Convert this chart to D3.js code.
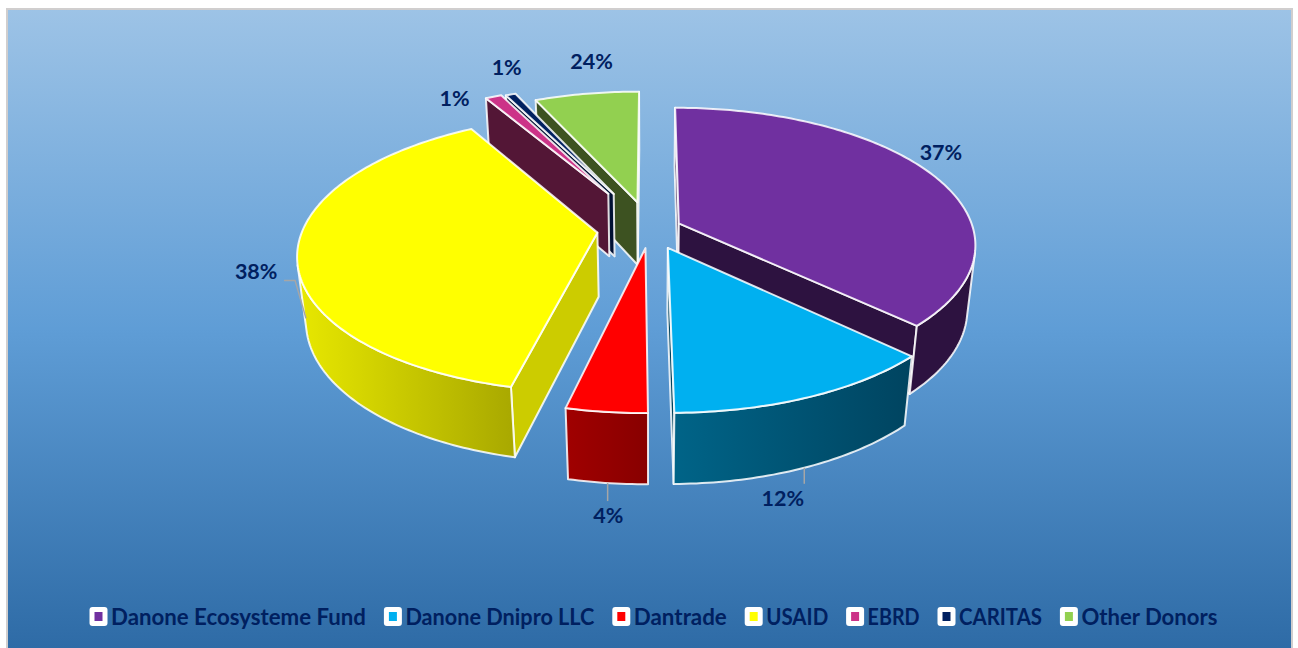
<!DOCTYPE html>
<html><head><meta charset="utf-8">
<script src="https://cdn.jsdelivr.net/npm/d3@7"></script>
<style>html,body{margin:0;padding:0;background:#fff}svg{display:block}text{font-family:Lato,sans-serif;font-weight:700;fill:#002060}</style>
</head><body><svg id="c" width="1298" height="648"></svg>
<script>
// Data
const categories = ["Danone Ecosysteme Fund","Danone Dnipro LLC","Dantrade","USAID","EBRD","CARITAS","Other Donors"];
const shares = [37.2,12.65,3.75,38,1.05,0.65,6.7];  // slice sizes as drawn
const labels = ["37%","12%","4%","38%","1%","1%","24%"]; // printed labels, as in the source
const explode = [0.107,0.15,0.14,0.18,0.31,0.3,0.21];
const topColors = ["#7030a0","#00b0f0","#ff0000","#ffff00","#cc3388","#002060","#92d050"];
const sideColors = ["#2d1240","#00445f","#8f0000","#cccc00","#531636","#001033","#3d5221"];
const wallLeft = ["#2d1240","#006488","#a00000","#e8e800","#531636","#001033","#3d5221"];
const wallRight = ["#2d1240","#004460","#880000","#a8a800","#531636","#001033","#3d5221"];
const labelOffset = [[9,-22],[-26,101],[2,104],[-41,18],[-39,2],[-4,-27],[5,-32]];
const legendWidths = [255,189,93,62,52,83,136];

const P = {cx:650,cy:229,rx:294.5,ry:134.3,k:0.148,m:0.025,d:65.6};
const project = (u,v,h) => { const f = 1/(1-P.k*v+P.m*h); return [P.cx+P.rx*u*f, P.cy+(P.ry*v+P.d*h)*f]; };

const svg = d3.select("#c"), defs = svg.append("defs");
const bg = defs.append("linearGradient").attr("id","bg").attr("x1",0).attr("x2",0).attr("y1",0).attr("y2",1);
[[0,"#9dc3e6"],[0.5,"#5f9dd6"],[1,"#2e6ba6"]].forEach(s=>bg.append("stop").attr("offset",s[0]).attr("stop-color",s[1]));
svg.append("rect").attr("x",7).attr("y",9).attr("width",1285).attr("height",640).attr("fill","url(#bg)").attr("stroke","#d0cece").attr("stroke-width",2);

const pie = d3.pie().sort(null).value(d=>d)(shares);
const color = d3.scaleOrdinal(categories, topColors);
const line = d3.line();
const slices = pie.map((p,i)=>{
  const mid=(p.startAngle+p.endAngle)/2;
  const ox=Math.sin(mid)*explode[i], oy=-Math.cos(mid)*explode[i];
  const pt=(a,h,r=1)=>project(ox+r*Math.sin(a),oy-r*Math.cos(a),h);
  return {i,p,mid,ox,oy,pt,order:Math.cos(mid)};
}).sort((a,b)=>b.order-a.order);

const area = pts => d3.polygonArea(pts);
const wallAttr = g => g.attr("stroke","#fff").attr("stroke-opacity",0.85).attr("stroke-width",2).attr("stroke-linejoin","round");

slices.forEach(s=>{
  const {i,p,pt}=s, g=svg.append("g").call(wallAttr);
  const A0=project(s.ox,s.oy,0), A1=project(s.ox,s.oy,1);
  const n=Math.max(4,Math.ceil((p.endAngle-p.startAngle)*60));
  const angles=d3.range(n+1).map(j=>p.startAngle+(p.endAngle-p.startAngle)*j/n);
  // outer wall: only the part that faces the viewer
  const vis=[];
  for(let j=0;j<n;j++){ const q=[pt(angles[j],0),pt(angles[j+1],0),pt(angles[j+1],1),pt(angles[j],1)];
    if(area(q)>0){ if(!vis.length) vis.push(angles[j]); vis.push(angles[j+1]); } }
  // radial walls
  [[p.startAngle,1],[p.endAngle,-1]].forEach(([a,sgn])=>{
    const q=[A0,pt(a,0),pt(a,1),A1];
    if(area(q)*sgn>0) g.append("path").attr("d",line(q)+"Z").attr("fill",sideColors[i]);
  });
  if(vis.length){
    const t=vis.map(a=>pt(a,0)), b=vis.map(a=>pt(a,1)).reverse(), all=t.concat(b);
    const xs=d3.extent(all,d=>d[0]);
    const grad=defs.append("linearGradient").attr("id","w"+i).attr("gradientUnits","userSpaceOnUse")
      .attr("x1",xs[0]).attr("x2",xs[1]).attr("y1",0).attr("y2",0);
    grad.append("stop").attr("offset",0).attr("stop-color",wallLeft[i]);
    grad.append("stop").attr("offset",1).attr("stop-color",wallRight[i]);
    g.append("path").attr("d",line(all)+"Z").attr("fill",`url(#w${i})`);
  }
  g.append("path").attr("d",line([A0].concat(angles.map(a=>pt(a,0))))+"Z").attr("fill",color(categories[i]));
});

// data labels
const byIndex=d3.index(slices,s=>s.i);
labels.forEach((t,i)=>{
  const s=byIndex.get(i), a=s.pt(s.mid,0), o=labelOffset[i];
  svg.append("text").attr("x",a[0]+o[0]).attr("y",a[1]+o[1]).attr("dy","0.35em").attr("text-anchor","middle").attr("font-size",21.5).text(t);
});
// leader lines
const lg=svg.append("g").attr("fill","none").attr("stroke","#a6a6a6").attr("stroke-width",1.5);
[[1,16],[2,18]].forEach(([i,len])=>{
  const s=byIndex.get(i), a=s.pt(s.mid,1);
  lg.append("path").attr("d",line([a,[a[0],a[1]+len]]));
});
{ const s=byIndex.get(3), a=s.pt(Math.PI*1.5-0.15,1);
  lg.append("path").attr("d",line([a,[a[0]-11,a[1]-38],[a[0]-22,a[1]-38]])); }

// legend
const lgd=svg.append("g");
let x=89.5;
categories.forEach((c,i)=>{
  const g=lgd.append("g").attr("transform",`translate(${x},0)`);
  g.append("rect").attr("x",0).attr("y",607).attr("width",18).attr("height",19).attr("rx",3).attr("fill","#fff");
  g.append("rect").attr("x",5).attr("y",612).attr("width",8).attr("height",9).attr("fill",color(c));
  g.append("text").attr("x",21.5).attr("y",617).attr("dy","0.35em").attr("font-size",22.2)
    .attr("textLength",legendWidths[i]).attr("lengthAdjust","spacingAndGlyphs").text(c);
  x+=legendWidths[i]+39.4;
});
</script></body></html>
